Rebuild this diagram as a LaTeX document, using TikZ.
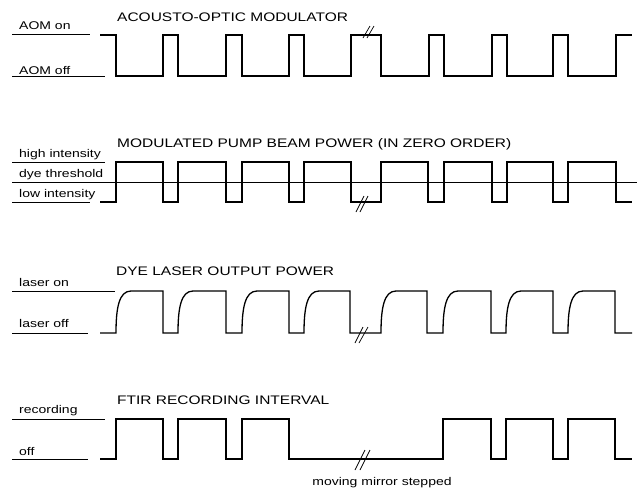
\documentclass[tikz,border=0pt]{standalone}
\usepackage{fontspec}
\newfontfamily\wfont[FakeStretch=1.25]{Liberation Sans}
\begin{document}
\begin{tikzpicture}[x=1pt,y=-1pt,
  wave/.style={line width=1.3pt,line join=miter,line cap=butt},
  guide/.style={line width=0.8pt},
  brk/.style={line width=0.7pt},
  lbl/.style={anchor=base west,inner sep=0pt,font=\wfont\fontsize{11.2}{13}\selectfont},
  ttl/.style={anchor=base west,inner sep=0pt,font=\wfont\fontsize{12.4}{14}\selectfont}]
\useasboundingbox (0,0) rectangle (637,488);

% ---------- Acousto-optic modulator ----------
\node[ttl] (t1) at (117,21) {ACOUSTO-OPTIC MODULATOR};
\node[lbl] (l1a) at (19,29) {AOM on};
\node[lbl] (l1b) at (19,74) {AOM off};
\draw[guide] (12,34) -- (90,34);
\draw[guide] (12,76) -- (105,76);
\draw[wave] (100,35) -- (116,35) -- (116,76) -- (163,76) -- (163,35) -- (178,35) -- (178,76)
  -- (226,76) -- (226,35) -- (242,35) -- (242,76) -- (289,76) -- (289,35) -- (304,35) -- (304,76)
  -- (351,76) -- (351,35) -- (381,35) -- (381,76) -- (429,76) -- (429,35) -- (444,35) -- (444,76)
  -- (492,76) -- (492,35) -- (507,35) -- (507,76) -- (553,76) -- (553,35) -- (568,35) -- (568,76)
  -- (616,76) -- (616,35) -- (632,35);
\draw[brk] (363,38) -- (370,26) (367,38) -- (374,26);

% ---------- Modulated pump beam ----------
\node[ttl] (t2) at (117,147) {MODULATED PUMP BEAM POWER (IN ZERO ORDER)};
\node[lbl] (l2a) at (19,157) {high intensity};
\node[lbl] (l2b) at (19,177) {dye threshold};
\node[lbl] (l2c) at (19,197) {low intensity};
\draw[guide] (12,162) -- (105,162);
\draw[guide] (12,182) -- (637,182);
\draw[guide] (12,202) -- (90,202);
\draw[wave] (100,202) -- (116,202) -- (116,162) -- (163,162) -- (163,202) -- (178,202) -- (178,162)
  -- (226,162) -- (226,202) -- (242,202) -- (242,162) -- (289,162) -- (289,202) -- (304,202) -- (304,162)
  -- (351,162) -- (351,202) -- (381,202) -- (381,162) -- (428,162) -- (428,202) -- (444,202) -- (444,162)
  -- (492,162) -- (492,202) -- (507,202) -- (507,162) -- (553,162) -- (553,202) -- (568,202) -- (568,162)
  -- (616,162) -- (616,202) -- (632,202);
\draw[brk] (356,212) -- (364,196) (360,212) -- (368,196);

% ---------- Dye laser output ----------
\node[ttl] (t3) at (116,275) {DYE LASER OUTPUT POWER};
\node[lbl] (l3a) at (19,286) {laser on};
\node[lbl] (l3b) at (19,327) {laser off};
\draw[guide] (12,291) -- (115,291);
\draw[guide] (12,333) -- (88,333);
\draw[wave] (100,333) -- (116,333) .. controls (116,308) and (119,291) .. (131,291)
  -- (163,291) -- (163,333) -- (178,333) .. controls (178,308) and (181,291) .. (193,291)
  -- (226,291) -- (226,333) -- (242,333) .. controls (242,308) and (245,291) .. (257,291)
  -- (289,291) -- (289,333) -- (304,333) .. controls (304,308) and (307,291) .. (319,291)
  -- (350,291) -- (350,333) -- (381,333) .. controls (381,308) and (384,291) .. (396,291)
  -- (427,291) -- (427,333) -- (443,333) .. controls (443,308) and (446,291) .. (458,291)
  -- (491,291) -- (491,333) -- (506,333) .. controls (506,308) and (509,291) .. (521,291)
  -- (553,291) -- (553,333) -- (568,333) .. controls (568,308) and (571,291) .. (583,291)
  -- (615,291) -- (615,333) -- (632,333);
\draw[brk] (355,343) -- (363,327) (359,343) -- (368,327);

% ---------- FTIR recording interval ----------
\node[ttl] (t4) at (117,404) {FTIR RECORDING INTERVAL};
\node[lbl] (l4a) at (19,413) {recording};
\node[lbl] (l4b) at (19,455) {off};
\draw[guide] (12,419) -- (105,419);
\draw[guide] (12,459) -- (88,459);
\draw[wave] (100,459) -- (116,459) -- (116,419) -- (163,419) -- (163,459) -- (178,459) -- (178,419)
  -- (226,419) -- (226,459) -- (242,459) -- (242,419) -- (289,419) -- (289,459)
  -- (443,459) -- (443,419) -- (491,419) -- (491,459) -- (506,459) -- (506,419)
  -- (553,419) -- (553,459) -- (568,459) -- (568,419) -- (615,419) -- (615,459) -- (632,459);
\draw[brk] (355,470) -- (365,450) (360,470) -- (370,450);
\node[lbl,anchor=base] (mm) at (382,485) {moving mirror stepped};
\end{tikzpicture}
\end{document}
